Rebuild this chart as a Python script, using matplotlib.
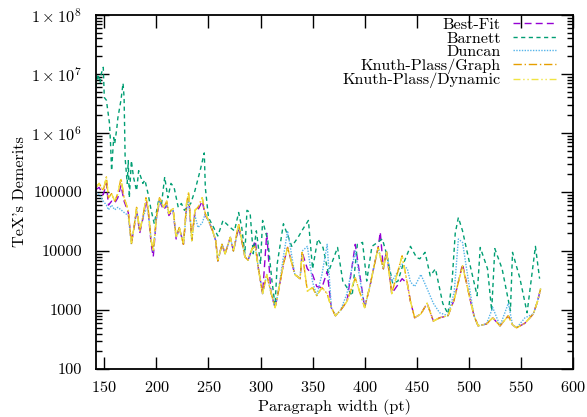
import matplotlib
matplotlib.use("Agg")
import matplotlib.pyplot as plt
from matplotlib.ticker import FixedLocator, LogLocator, NullFormatter, MultipleLocator

plt.rcParams['font.family'] = 'serif'
plt.rcParams['font.serif'] = ['cmr10']
plt.rcParams['mathtext.fontset'] = 'cm'
plt.rcParams['axes.formatter.use_mathtext'] = True
plt.rcParams['font.size'] = 11.7

# paragraph widths (pt) shared by Best-Fit, Duncan and the Knuth-Plass runs
width = [142, 145, 149, 152, 154, 157, 160, 163, 166, 169, 173, 176, 179, 181,
         184, 187, 190, 192, 195, 197, 200, 203, 207, 210, 212, 216, 219, 222,
         226, 229, 231, 234, 237, 240, 244, 247, 250, 254, 257, 259, 263, 266,
         271, 274, 279, 282, 285, 288, 292, 295, 298, 302, 306, 310, 314, 317,
         322, 326, 333, 338, 340, 345, 350, 354, 359, 364, 368, 372, 377, 383,
         391, 400, 405, 409, 413, 415, 418, 421, 426, 436, 441, 444, 448, 454,
         460, 466, 472, 480, 486, 490, 494, 501, 505, 509, 517, 523, 530, 538,
         542, 546, 554, 562, 566, 569]

kp_dynamic = [1.2e5, 1.4e5, 1.05e5, 1.8e5, 8e4, 9.4e4, 7e4, 9.4e4, 1.7e5, 8e4,
              4.9e4, 1.3e4, 2.9e4, 5.5e4, 2.2e4, 3.7e4, 8e4, 5.5e4, 1.5e4, 1.0e4,
              3.7e4, 8e4, 5.5e4, 7e4, 4.3e4, 5.5e4, 1.7e4, 2.5e4, 1.3e4, 6.4e4,
              1.0e5, 1.5e4, 4.9e4, 5.5e4, 8e4, 4.3e4, 3.3e4, 2.2e4, 1.5e4, 6.8e3,
              1.3e4, 9e3, 1.7e4, 1.0e4, 2.9e4, 1.5e4, 8e3, 7e3, 1.1e4, 1.2e4,
              5e3, 1.9e3, 4e3, 2e3, 1.1e3, 2e3, 6e3, 1.15e4, 4e3, 3.4e3,
              9.5e3, 2.1e3, 2.4e3, 1.75e3, 2.4e3, 1.9e3, 1.1e3, 800, 1.0e3, 1.4e3,
              3.5e3, 1.1e3, 2.5e3, 5.5e3, 1.15e4, 8e3, 5e3, 1.0e4, 1.9e3, 8.3e3,
              2.8e3, 1.4e3, 740, 860, 1.3e3, 650, 740, 800, 1.5e3, 3e3,
              5.6e3, 1.6e3, 800, 540, 580, 740, 540, 800, 560, 500,
              600, 860, 1.4e3, 2.3e3]

kp_graph = [1.2e5, 1.4e5, 1.05e5, 1.8e5, 8e4, 9.4e4, 7e4, 9.4e4, 1.7e5, 8e4,
            4.9e4, 1.3e4, 2.9e4, 5.5e4, 2.2e4, 3.7e4, 8e4, 5.5e4, 1.5e4, 1.0e4,
            3.7e4, 8e4, 5.5e4, 7e4, 4.3e4, 5.5e4, 1.7e4, 2.5e4, 1.3e4, 6.4e4,
            1.0e5, 1.5e4, 4.9e4, 5.5e4, 8e4, 4.3e4, 3.3e4, 2.2e4, 1.5e4, 6.8e3,
            1.3e4, 9e3, 1.7e4, 1.0e4, 2.9e4, 1.5e4, 8e3, 7e3, 1.1e4, 1.2e4,
            5e3, 1.9e3, 4e3, 2e3, 1.1e3, 2e3, 6e3, 1.15e4, 4e3, 3.4e3,
            9.5e3, 2.1e3, 2.4e3, 1.75e3, 2.4e3, 1.9e3, 1.1e3, 800, 1.0e3, 1.4e3,
            3.5e3, 1.1e3, 2.5e3, 5.5e3, 1.15e4, 8e3, 5e3, 1.0e4, 1.9e3, 8.3e3,
            2.8e3, 1.4e3, 740, 860, 1.3e3, 650, 740, 800, 1.5e3, 3e3,
            5.6e3, 1.6e3, 800, 540, 580, 740, 540, 800, 560, 500,
            600, 860, 1.4e3, 2.3e3]

best_fit = [1.1e5, 1.2e5, 9e4, 1.4e5, 6e4, 7e4, 6.5e4, 8e4, 1.3e5, 7e4,
            4.5e4, 1.4e4, 2.7e4, 5e4, 2e4, 3.5e4, 7e4, 5e4, 1.3e4, 8e3,
            3.5e4, 7e4, 5e4, 6e4, 4e4, 5e4, 1.6e4, 2.5e4, 1.3e4, 5.5e4,
            8e4, 1.6e4, 4.5e4, 5e4, 7e4, 4e4, 3.3e4, 2.2e4, 1.5e4, 6.8e3,
            1.3e4, 9e3, 1.7e4, 1.0e4, 2.5e4, 1.5e4, 8e3, 7e3, 1.1e4, 1.5e4,
            5e3, 1.9e3, 2e4, 2e3, 1.1e3, 2e3, 6e3, 1.15e4, 4e3, 3.4e3,
            9.5e3, 5e3, 4e3, 2.5e3, 2.4e3, 4.5e3, 1.1e3, 800, 1.0e3, 1.4e3,
            1.3e4, 1.1e3, 2.5e3, 5.5e3, 1.15e4, 2.1e4, 5e3, 1.0e4, 1.9e3, 3.4e3,
            2.8e3, 1.4e3, 740, 860, 1.3e3, 650, 740, 800, 1.5e3, 3e3,
            6e3, 1.6e3, 800, 540, 580, 740, 540, 800, 560, 500,
            600, 860, 1.4e3, 2.3e3]

duncan = [1.0e5, 9e4, 7e4, 6e4, 5e4, 6e4, 5e4, 5.5e4, 5e4, 4.5e4,
          4e4, 1.3e4, 2.9e4, 5e4, 2.2e4, 3.7e4, 5e4, 5e4, 1.5e4, 1.0e4,
          3.7e4, 7e4, 5.5e4, 6e4, 4.3e4, 5e4, 1.7e4, 2.5e4, 1.3e4, 5e4,
          8e4, 1.5e4, 4e4, 2.5e4, 3e4, 4.3e4, 3.3e4, 2.2e4, 1.5e4, 6.8e3,
          1.3e4, 9e3, 1.7e4, 1.0e4, 2.5e4, 1.5e4, 8e3, 7e3, 1.1e4, 1.2e4,
          5e3, 1.9e3, 4e3, 2e3, 1.1e3, 2e3, 8e3, 2.2e4, 4e3, 3.4e3,
          1.0e4, 1.2e4, 3e3, 1.75e3, 4e3, 1.3e4, 1.1e3, 800, 1.0e3, 1.9e3,
          1.0e4, 1.1e3, 2.5e3, 5.5e3, 1.15e4, 8e3, 5e3, 1.0e4, 3e3, 6e3,
          5e3, 3e3, 2.5e3, 4e3, 2.3e3, 1.3e3, 900, 800, 2e3, 1.6e4,
          1.4e4, 2.2e3, 800, 540, 580, 1.1e3, 540, 1.3e3, 560, 500,
          740, 860, 1.4e3, 2.3e3]

# Barnett has its own sample points
barnett_width = [142, 144, 146, 147, 149, 150, 152, 155, 156, 157, 159, 160, 162,
                 163, 166, 168, 169, 170, 172, 173, 174, 176, 178, 181, 183, 186,
                 187, 189, 192, 195, 198, 202, 205, 208, 211, 214, 217, 221, 224,
                 227, 233, 237, 242, 246, 247, 250, 255, 259, 264, 271, 275, 279,
                 282, 285, 287, 290, 293, 296, 300, 302, 307, 311, 314, 316, 322,
                 330, 336, 341, 346, 350, 355, 360, 365, 370, 374, 379, 388, 393,
                 398, 402, 407, 417, 421, 427, 432, 437, 444, 450, 453, 458, 463,
                 468, 475, 480, 484, 487, 490, 494, 501, 508, 511, 518, 522, 525,
                 532, 540, 542, 549, 556, 564, 568]
barnett = [6e6, 1.0e7, 7e6, 1.0e7, 1.3e7, 4e6, 3.6e6, 1.45e6, 6.6e5, 2.3e5, 8.4e5,
           6.6e5, 1.2e6, 1.8e6, 3.6e6, 7e6, 4e6, 3.8e5, 1.4e5, 3.4e5, 8e4, 3.4e5,
           1.8e5, 1.05e5, 2.3e5, 1.6e5, 1.4e5, 1.6e5, 9.4e4, 4.9e4, 2.9e4, 7e4,
           6.4e4, 1.8e5, 8e4, 1.4e5, 1.2e5, 5.5e4, 6.4e4, 4.9e4, 6.4e4, 1.05e5,
           2.3e5, 4.6e5, 1.2e5, 3.7e4, 2.5e4, 1.8e4, 3.3e4, 2.5e4, 2.2e4, 4.5e4,
           2.5e4, 9e3, 4.9e4, 4.5e4, 9e3, 2.2e4, 6e3, 3.3e4, 1.5e4, 3.1e3, 1.2e3,
           6e3, 2.9e4, 1.2e4, 1.7e4, 2.4e4, 3.3e4, 5e3, 1.6e4, 1.15e4, 4.3e3,
           7.4e3, 1.15e4, 3.1e3, 1.75e3, 1.3e4, 1.4e4, 3.1e3, 1.2e4, 1.6e4, 9e3,
           2.8e3, 3.1e3, 6e3, 1.2e4, 7.7e3, 7.4e3, 9.5e3, 3.8e3, 5e3, 1.3e3, 860,
           3.1e3, 2e4, 3.7e4, 2.2e4, 6e3, 1.75e3, 1.15e4, 5e3, 970, 1.1e4, 5e3,
           970, 9.5e3, 3.5e3, 900, 1.2e4, 3.4e3]

fig = plt.figure(figsize=(5.87, 4.17), dpi=100)
ax = fig.add_axes([0.1635, 0.115, 0.8125, 0.849])

ax.plot(width, best_fit, color='#9400d3', lw=1.0, ls=(0, (5, 3)), label='Best-Fit')
ax.plot(barnett_width, barnett, color='#009e73', lw=1.0, ls=(0, (3, 2.5)), label='Barnett')
ax.plot(width, duncan, color='#56b4e9', lw=1.0, ls=(0, (1, 1)), label='Duncan')
ax.plot(width, kp_graph, color='#e69f00', lw=1.0, ls=(0, (6, 2, 1, 2)), label='Knuth-Plass/Graph')
ax.plot(width, kp_dynamic, color='#f0e442', lw=1.0, ls=(0, (5, 2, 1, 2, 1, 2)), label='Knuth-Plass/Dynamic')

ax.set_yscale('log')
ax.set_xlim(142, 600)
ax.set_ylim(100, 1e8)

ax.xaxis.set_major_locator(MultipleLocator(50))
ax.yaxis.set_major_locator(FixedLocator([1e2, 1e3, 1e4, 1e5, 1e6, 1e7, 1e8]))
ax.set_yticklabels(['100', '1000', '10000', '100000',
                    r'$1\times10^{6}$', r'$1\times10^{7}$', r'$1\times10^{8}$'])
ax.yaxis.set_minor_locator(LogLocator(base=10, subs=range(2, 10), numticks=20))
ax.yaxis.set_minor_formatter(NullFormatter())

ax.tick_params(which='both', direction='in', top=True, right=True, width=1.0, color='black')
ax.tick_params(which='major', length=9)
ax.tick_params(which='minor', length=4.5)
ax.tick_params(axis='y', pad=10)
ax.tick_params(axis='x', pad=8)
for s in ax.spines.values():
    s.set_linewidth(1.3)

ax.set_xlabel('Paragraph width (pt)', labelpad=3)
ax.set_ylabel("TeX's Demerits", labelpad=3)

leg = ax.legend(loc='upper right', frameon=False, markerfirst=False,
                handlelength=2.65, handletextpad=0.75, labelspacing=-0.05,
                borderaxespad=0.0, bbox_to_anchor=(0.978, 1.011))

fig.savefig('out.png', dpi=100)
